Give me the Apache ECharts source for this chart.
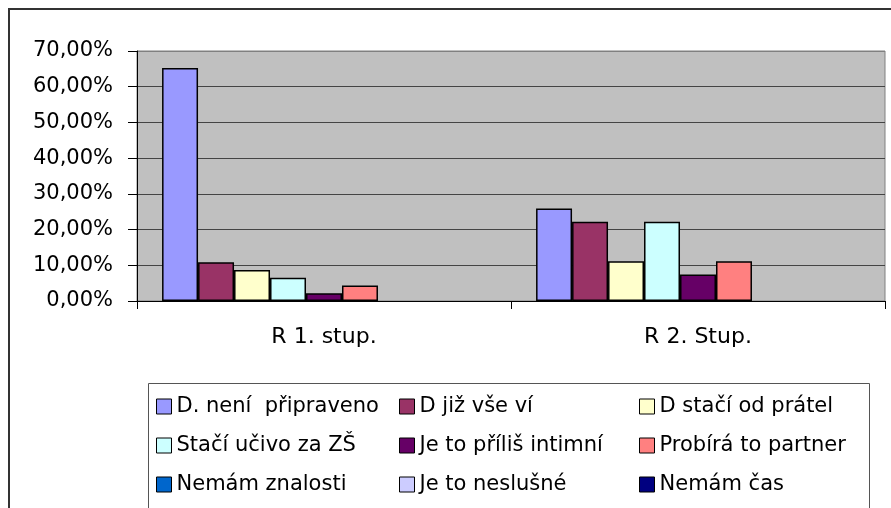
<!DOCTYPE html>
<html>
<head>
<meta charset="utf-8">
<script src="https://cdn.jsdelivr.net/npm/echarts@6/dist/echarts.min.js"></script>
<style>
  html, body { margin: 0; padding: 0; background: #fff; }
  #chart { width: 891px; height: 508px; }
</style>
</head>
<body>
<div id="chart"></div>
<script>
const categories = ['R 1. stup.', 'R 2. Stup.'];
const seriesNames = [
  'D. není  připraveno', 'D již vše ví', 'D stačí od prátel',
  'Stačí učivo za ZŠ', 'Je to příliš intimní', 'Probírá to partner',
  'Nemám znalosti', 'Je to neslušné', 'Nemám čas'
];
// percent per series, for R 1. stup. and R 2. Stup.
const stup1 = [65.22, 10.87, 8.70, 6.52, 2.17, 4.35, 0, 0, 0];
const stup2 = [25.93, 22.22, 11.11, 22.22, 7.41, 11.11, 0, 0, 0];
const yTicks = [0, 10, 20, 30, 40, 50, 60, 70];

const palette = ['#9999FF', '#993366', '#FFFFCC', '#CCFFFF', '#660066', '#FF8080', '#0066CC', '#CCCCFF', '#000080'];
const font = 'DejaVu Sans';

const myChart = echarts.init(document.getElementById('chart'));

// zero values draw no bar (Excel shows nothing there)
const toBar = v => (v === 0 ? '-' : v);

const series = seriesNames.map((name, i) => ({
  name: name,
  type: 'bar',
  barGap: '0%',
  barCategoryGap: '13.4%',
  itemStyle: { color: palette[i], borderColor: '#000', borderWidth: 1.5 },
  data: [toBar(stup1[i]), toBar(stup2[i])]
}));

// three legend columns, row by row like the original
const legendCols = [[0, 3, 6], [1, 4, 7], [2, 5, 8]];
const legendLeft = [156, 399, 639];
const legend = legendCols.map((col, c) => ({
  orient: 'vertical',
  left: legendLeft[c],
  top: 396,
  padding: 0,
  itemGap: 18,
  itemWidth: 15,
  itemHeight: 15,
  icon: 'rect',
  selectedMode: false,
  itemStyle: { borderColor: '#000', borderWidth: 1 },
  textStyle: { fontFamily: font, fontSize: 21, lineHeight: 21, color: '#000' },
  data: col.map(k => seriesNames[k])
}));

const option = {
  animation: false,
  textStyle: { fontFamily: font },
  grid: {
    left: 137,
    right: 6,
    top: 51,
    bottom: 207,
    show: true,
    backgroundColor: '#C0C0C0',
    borderColor: '#808080',
    borderWidth: 1,
    outerBoundsMode: 'none'
  },
  legend: legend,
  xAxis: {
    type: 'category',
    data: categories,
    axisLine: { lineStyle: { color: '#000', width: 1 } },
    axisTick: { show: true, length: 8, lineStyle: { color: '#000' } },
    axisLabel: { fontFamily: font, fontSize: 22, color: '#000', margin: 25 }
  },
  yAxis: {
    type: 'value',
    min: yTicks[0],
    max: yTicks[yTicks.length - 1],
    interval: 10,
    axisLine: { show: true, lineStyle: { color: '#000', width: 1 } },
    axisTick: { show: true, length: 9, lineStyle: { color: '#000' } },
    axisLabel: {
      fontFamily: font,
      fontSize: 21,
      color: '#000',
      margin: 24,
      formatter: v => v.toFixed(2).replace('.', ',') + '%'
    },
    splitLine: {
      show: true,
      lineStyle: {
        color: ['#444', '#444', '#444', '#444', '#444', '#444', '#444', '#808080'],
        width: 1
      }
    }
  },
  graphic: [
    {
      type: 'rect',
      silent: true,
      shape: { x: 9, y: 9, width: 1000, height: 1000 },
      style: { fill: 'none', stroke: '#333', lineWidth: 2 }
    },
    {
      type: 'rect',
      silent: true,
      shape: { x: 148.5, y: 383.5, width: 721, height: 200 },
      style: { fill: 'none', stroke: '#555', lineWidth: 1 }
    }
  ],
  series: series
};

myChart.setOption(option);
</script>
</body>
</html>
